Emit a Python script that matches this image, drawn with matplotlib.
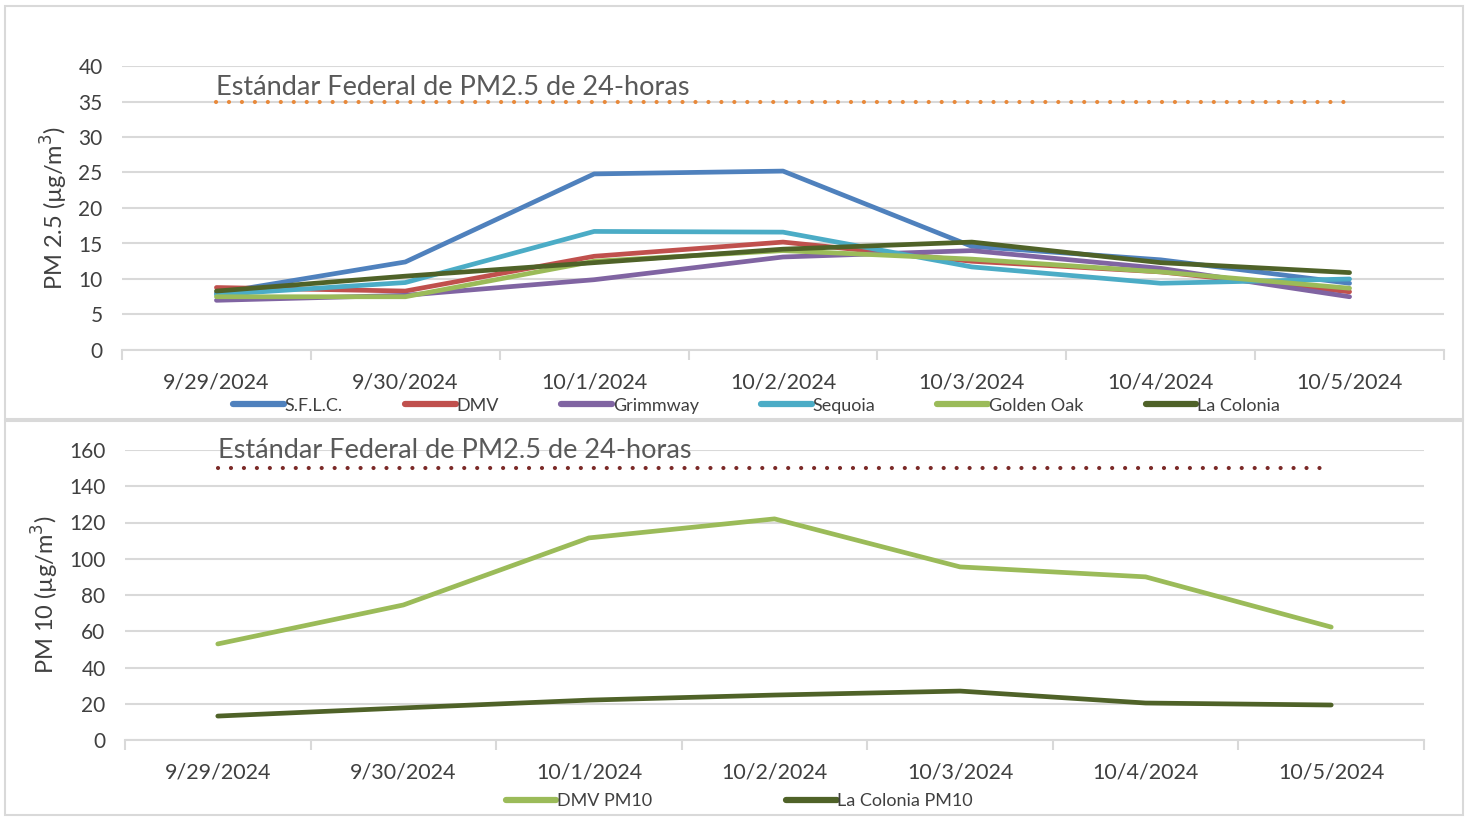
import numpy as np
import matplotlib.pyplot as plt
from matplotlib.patches import Rectangle

plt.rcParams['font.family'] = ['Lato', 'DejaVu Sans']

dates = ['9/29/2024', '9/30/2024', '10/1/2024', '10/2/2024', '10/3/2024', '10/4/2024', '10/5/2024']

pm25_names = ['S.F.L.C.', 'DMV', 'Grimmway', 'Sequoia', 'Golden Oak', 'La Colonia']
sflc = [8.0, 12.4, 24.8, 25.2, 14.6, 12.7, 9.4]
dmv = [8.8, 8.3, 13.2, 15.2, 12.5, 11.0, 8.2]
grimmway = [7.0, 7.7, 9.9, 13.1, 14.0, 11.5, 7.5]
sequoia = [7.8, 9.5, 16.7, 16.6, 11.7, 9.4, 10.0]
golden_oak = [7.5, 7.5, 12.5, 14.0, 12.8, 11.0, 8.7]
la_colonia = [8.3, 10.4, 12.3, 14.2, 15.2, 12.3, 10.9]
pm25_std = 35

pm10_names = ['DMV PM10', 'La Colonia PM10']
dmv_pm10 = [53, 74.5, 111.5, 122, 95.5, 90, 62.3]
lacolonia_pm10 = [13.2, 17.7, 22, 24.8, 27, 20.4, 19.3]
pm10_std = 150

std_label = 'Estándar Federal de PM2.5 de 24-horas'

pm25_colors = ['#4F81BD', '#C0504D', '#8064A2', '#4BACC6', '#9BBB59', '#4F6228']
pm10_colors = ['#9BBB59', '#4F6228']
grid_c = '#D9D9D9'
text_c = '#404040'

W, H = 1475, 818
fig = plt.figure(figsize=(W / 100, H / 100), dpi=100)

# panel frames
for (x0, y0, x1, y1) in [(5, 6, 1463, 419), (5, 421, 1463, 815)]:
    fig.patches.append(Rectangle((x0 / W, 1 - y1 / H), (x1 - x0) / W, (y1 - y0) / H,
                                 transform=fig.transFigure, fill=False,
                                 edgecolor=grid_c, lw=1.5))


def style(ax, ymax, step):
    x = np.arange(len(dates))
    ax.set_xlim(-0.5, len(dates) - 0.5)
    ax.set_ylim(0, ymax)
    ax.set_yticks(np.arange(0, ymax + 1, step))
    ax.set_xticks(x)
    ax.set_xticklabels(dates)
    ax.set_xticks(np.arange(-0.5, len(dates), 1), minor=True)
    ax.tick_params(axis='x', which='major', length=0, pad=16, labelsize=15.5, colors=text_c)
    ax.tick_params(axis='x', which='minor', length=7, width=1.5, color=grid_c, direction='out')
    ax.tick_params(axis='y', length=0, pad=14, labelsize=15, colors=text_c)
    ax.grid(axis='y', color=grid_c, lw=1.5)
    ax.set_axisbelow(True)
    for s in ['top', 'right', 'left']:
        ax.spines[s].set_visible(False)
    ax.spines['bottom'].set_color(grid_c)
    ax.spines['bottom'].set_linewidth(1.5)
    ax.spines['bottom'].set_zorder(0.5)


# top: PM2.5
ax1 = fig.add_axes([122 / W, 1 - 350 / H, (1444 - 122) / W, (350 - 66) / H])
style(ax1, 40, 5)
x = np.arange(len(dates))
for name, vals, c in zip(pm25_names, [sflc, dmv, grimmway, sequoia, golden_oak, la_colonia], pm25_colors):
    ax1.plot(x, vals, color=c, lw=3.4, label=name, solid_capstyle='round', solid_joinstyle='round')
ax1.plot(x, [pm25_std] * len(x), color='#E8893A', lw=3, linestyle=(0, (0.01, 3.1)),
         dash_capstyle='round')
ax1.text(0.0, pm25_std + 0.2, std_label, fontsize=19.5, color='#595959', ha='left', va='bottom')
ax1.set_ylabel('PM 2.5 (µg/m$^3$)', fontsize=17, color=text_c, labelpad=6)
leg = ax1.legend(loc='center', bbox_to_anchor=(0.48, -0.196), ncol=6, frameon=False,
                 fontsize=13, handlelength=2.8, handletextpad=0.05, columnspacing=3.45,
                 labelcolor=text_c, borderpad=0)
for h in leg.get_lines():
    h.set_linewidth(4.5)

# bottom: PM10
ax2 = fig.add_axes([125 / W, 1 - 740 / H, (1424 - 125) / W, (740 - 450) / H])
style(ax2, 160, 20)
for name, vals, c in zip(pm10_names, [dmv_pm10, lacolonia_pm10], pm10_colors):
    ax2.plot(x, vals, color=c, lw=3.4, label=name, solid_capstyle='round', solid_joinstyle='round')
ax2.plot(x[:-1].tolist() + [5.95], [pm10_std] * len(x), color='#7B2A28', lw=3,
         linestyle=(0, (0.01, 3.1)), dash_capstyle='round')
ax2.text(0.0, 153, std_label, fontsize=19.5, color='#595959', ha='left', va='bottom')
ax2.set_ylabel('PM 10 (µg/m$^3$)', fontsize=17, color=text_c, labelpad=6)
leg2 = ax2.legend(loc='center', bbox_to_anchor=(0.473, -0.21), ncol=2, frameon=False,
                  fontsize=13, handlelength=2.8, handletextpad=0.05, columnspacing=7.4,
                  labelcolor=text_c, borderpad=0)
for h in leg2.get_lines():
    h.set_linewidth(4.5)

fig.savefig('out.png', dpi=100)
